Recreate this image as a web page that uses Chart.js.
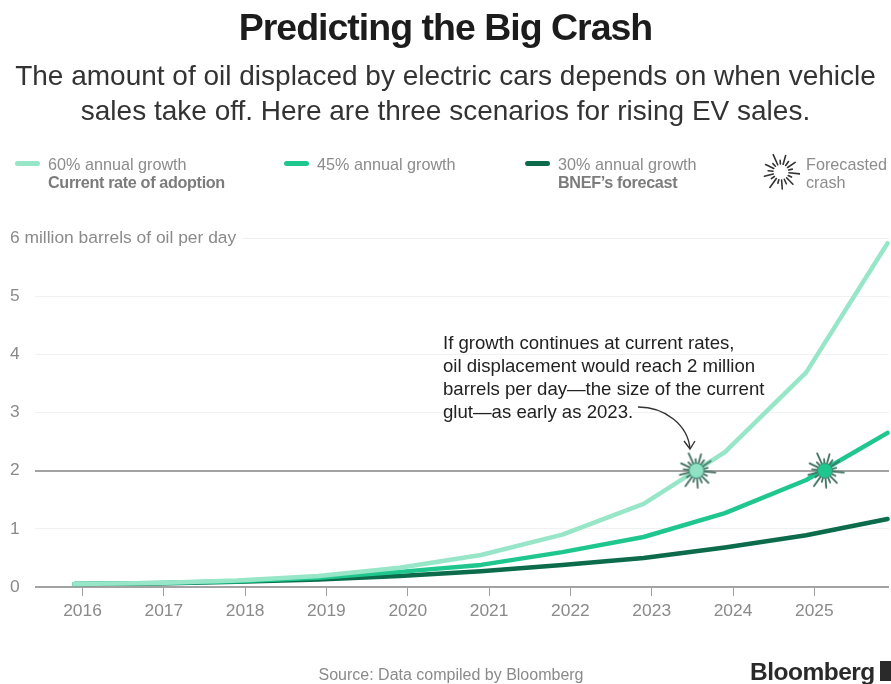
<!DOCTYPE html>
<html><head><meta charset="utf-8">
<script src="https://cdn.jsdelivr.net/npm/chart.js@4"></script>
<style>
html,body{margin:0;padding:0;background:#fff;width:891px;height:684px;overflow:hidden;font-family:"Liberation Sans",sans-serif}
#wrap{position:relative;width:891px;height:684px}
canvas#c{position:absolute;left:0;top:0}
.t{position:absolute;white-space:nowrap}
#title{left:0;width:891px;text-align:center;top:6px;font-size:37.5px;line-height:42px;font-weight:700;letter-spacing:-1px;color:#1c1c1c}
.sub{left:0;width:891px;text-align:center;font-size:28px;line-height:32px;color:#333}
.leg{font-size:16.2px;line-height:18px;color:#8c8c8c}
.leg b{color:#7c7c7c;letter-spacing:-.35px}
.sw{position:absolute;height:5px;width:25px;border-radius:3px}
#note{left:443px;top:331px;font-size:18.6px;line-height:23px;color:#222}
#src{left:0;width:902px;text-align:center;top:666px;font-size:16px;line-height:18px;color:#8a8a8a}
#logo{left:750px;top:657px;font-size:24.5px;line-height:30px;font-weight:700;color:#2a2a2a;letter-spacing:-.5px}
#mark{position:absolute;left:880px;top:661px;width:11px;height:20px;background:#2a2a2a}
svg{position:absolute;left:0;top:0;pointer-events:none}
#ls{position:absolute;left:762px;top:151px}
</style></head><body>
<div id="wrap">
<canvas id="c" width="891" height="684"></canvas>
<div class="t" id="title">Predicting the Big Crash</div>
<div class="t sub" style="top:60px">The amount of oil displaced by electric cars depends on when vehicle</div>
<div class="t sub" style="top:95px">sales take off. Here are three scenarios for rising EV sales.</div>

<div class="sw" style="left:15px;top:161px;background:#98e6c8"></div>
<div class="t leg" style="left:48px;top:155px">60% annual growth<br><b>Current rate of adoption</b></div>
<div class="sw" style="left:284px;top:161px;background:#1fc78f"></div>
<div class="t leg" style="left:317px;top:155px">45% annual growth</div>
<div class="sw" style="left:525px;top:161px;background:#0b6b4b"></div>
<div class="t leg" style="left:558px;top:155px">30% annual growth<br><b>BNEF’s forecast</b></div>
<canvas id="ls" width="38" height="42"></canvas>
<div class="t leg" style="left:806px;top:155px">Forecasted<br>crash</div>

<div class="t" id="note">If growth continues at current rates,<br>oil displacement would reach 2 million<br>barrels per day—the size of the current<br>glut—as early as 2023.</div>
<svg width="891" height="684"><path d="M638 407 C665 407 688 425 690 449" fill="none" stroke="#333" stroke-width="1.4"/><path d="M684 441 L690 449 L695 441" fill="none" stroke="#333" stroke-width="1.4"/></svg>

<div class="t" id="src">Source: Data compiled by Bloomberg</div>
<div class="t" id="logo">Bloomberg</div>
<div id="mark"></div>
</div>
<script>
const xPoints=[2015.9,2016.9,2017.9,2018.9,2019.9,2020.9,2021.9,2022.9,2023.9,2024.9,2025.9];
const growth60=[0.05,0.07,0.11,0.19,0.33,0.55,0.90,1.43,2.32,3.69,5.91];
const growth45=[0.05,0.07,0.10,0.16,0.26,0.38,0.60,0.86,1.27,1.84,2.65];
const growth30=[0.05,0.06,0.09,0.13,0.19,0.27,0.38,0.50,0.68,0.89,1.17];
const crashX=[2023.55,2025.13];
const crashY=[2,2];
const crashFill=['#8fe3c4','#1fc78f'];
const yearTicks=[2016,2017,2018,2019,2020,2021,2022,2023,2024,2025];
const yTicks=[0,1,2,3,4,5,6];
const yLabels=['0','1','2','3','4','5','6 million barrels of oil per day'];
const pairs=(xs,ys)=>xs.map((x,i)=>({x,y:ys[i]}));

function star(ctx,cx,cy,rIn,rOut,n,stroke,lw){
  ctx.strokeStyle=stroke;ctx.lineWidth=lw;ctx.lineCap='round';
  for(let i=0;i<n;i++){
    const a=i/n*Math.PI*2+0.1, r=rOut*(i%2?0.68:1)*(i%3==0?1:0.9);
    ctx.beginPath();ctx.moveTo(cx+Math.cos(a)*rIn,cy+Math.sin(a)*rIn);
    ctx.lineTo(cx+Math.cos(a)*r,cy+Math.sin(a)*r);ctx.stroke();
  }
}
function crashMarker(fill){
  const s=document.createElement('canvas');s.width=s.height=44;
  const g=s.getContext('2d');
  star(g,22,22,6,19,18,'#3f6f60',1.8);
  g.beginPath();g.arc(22,22,7.5,0,Math.PI*2);g.fillStyle=fill;g.fill();
  g.lineWidth=1;g.strokeStyle='#3d8d74';g.stroke();
  return s;
}
star(document.getElementById('ls').getContext('2d'),19,21,8,19,18,'#333',1.6);

new Chart(document.getElementById('c'),{
  type:'line',
  data:{datasets:[
    {data:pairs(crashX,crashY),showLine:false,order:0,
     pointStyle:crashFill.map(crashMarker),pointRadius:22,pointHoverRadius:22},
    {data:pairs(xPoints,growth60),borderColor:'#98e6c8',borderWidth:4.5,pointRadius:0,order:1,tension:0,clip:false,borderJoinStyle:'round',borderCapStyle:'round'},
    {data:pairs(xPoints,growth45),borderColor:'#1fc78f',borderWidth:4.5,pointRadius:0,order:2,tension:0,clip:false,borderJoinStyle:'round',borderCapStyle:'round'},
    {data:pairs(xPoints,growth30),borderColor:'#0b6b4b',borderWidth:4.5,pointRadius:0,order:3,tension:0,clip:false,borderJoinStyle:'round',borderCapStyle:'round'}
  ]},
  options:{
    responsive:false,animation:false,events:[],
    layout:{autoPadding:false,padding:{top:238,bottom:57,left:0,right:2}},
    plugins:{legend:{display:false},tooltip:{enabled:false}},
    scales:{
      x:{type:'linear',min:2015.416,max:2025.918,
        afterBuildTicks:s=>{s.ticks=yearTicks.map(v=>({value:v}))},
        afterFit:s=>{s.height=40;s.paddingLeft=0;s.paddingRight=0},
        border:{display:false},
        grid:{drawOnChartArea:false,drawTicks:true,tickLength:9,tickColor:'#a0a0a0',tickWidth:1},
        ticks:{padding:5,maxRotation:0,autoSkip:false,color:'#8a8a8a',font:{family:'"Liberation Sans"',size:17.4},callback:v=>String(v)}},
      y:{min:0,max:6,
        afterBuildTicks:s=>{s.ticks=yTicks.map(v=>({value:v}))},
        afterFit:s=>{s.width=35;s.paddingTop=0;s.paddingBottom=0},
        border:{display:false},
        grid:{drawTicks:false,color:c=>(c.tick&&(c.tick.value===0||c.tick.value===2))?'#a3a3a3':'#f1f1f1',
              lineWidth:c=>(c.tick&&(c.tick.value===0||c.tick.value===2))?2:1},
        ticks:{mirror:true,padding:-25,color:'#8a8a8a',font:{family:'"Liberation Sans"',size:17.4},
              showLabelBackdrop:c=>c.tick.value===6,backdropColor:'#fff',backdropPadding:{left:0,right:7,top:3,bottom:3},
              callback:v=>yLabels[yTicks.indexOf(v)]}}
    }
  }
});
</script>
</body></html>
